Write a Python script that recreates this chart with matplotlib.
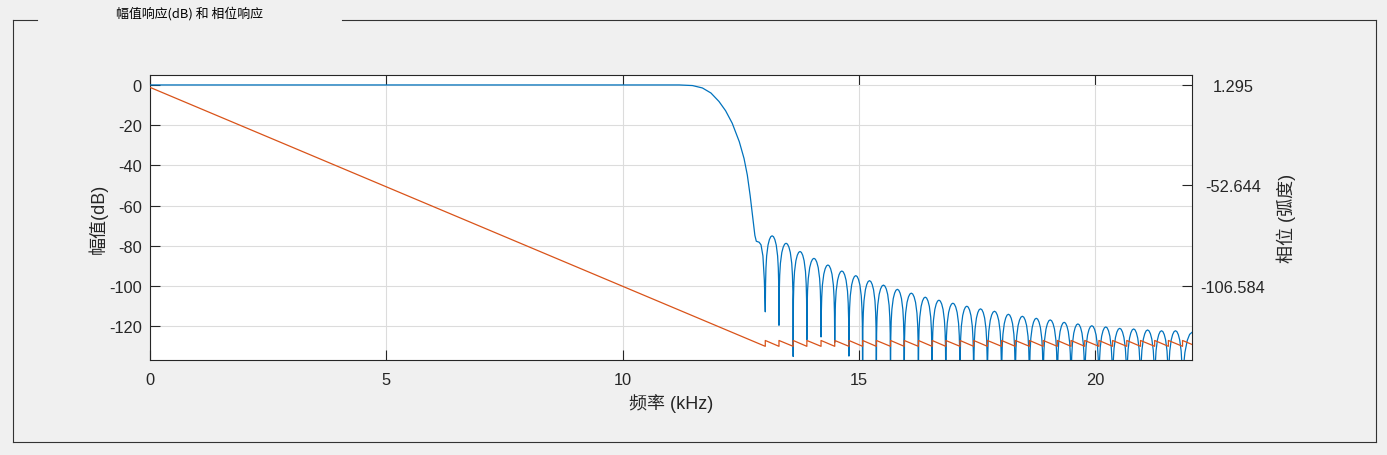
import matplotlib
matplotlib.use('Agg')
import matplotlib.pyplot as plt
from matplotlib.lines import Line2D
import numpy as np

plt.rcParams['font.family'] = ['Liberation Sans', 'Noto Sans CJK SC']
plt.rcParams['axes.unicode_minus'] = False

# magnitude: passband + transition band (kHz, dB)
trans_f = [0.0, 11.20, 11.48, 11.69, 11.87, 12.04, 12.18, 12.32, 12.47, 12.57, 12.64,
           12.70, 12.75, 12.80, 12.83, 12.89, 12.93, 12.97, 13.00]
trans_db = [0.0, 0.0, -0.3, -1.5, -4.0, -8.2, -12.8, -19.0, -28.2, -36.5, -44.8,
            -55.0, -65.0, -74.8, -77.7, -78.2, -79.5, -85.0, -97.0]

# stopband nulls (kHz) and their depth (dB), lobe peak levels (dB)
null_f = [13.02, 13.31, 13.61, 13.90, 14.20, 14.49, 14.79, 15.08, 15.37, 15.67, 15.96,
          16.26, 16.55, 16.84, 17.14, 17.43, 17.72, 18.02, 18.31, 18.61, 18.90, 19.20,
          19.49, 19.78, 20.08, 20.37, 20.67, 20.96, 21.26, 21.55, 21.85]
null_db = [-112.8, -119.5, -135.0, -126.7, -125.3, -128.0, -134.8, -150, -150, -150, -150,
           -150, -150, -150, -150, -150, -150, -150, -150, -150, -150, -150,
           -150, -150, -150, -150, -150, -150, -150, -150, -150]
peak_db = [-75.0, -78.7, -82.8, -86.2, -89.5, -92.5, -94.8, -97.3, -99.5, -101.6,
           -103.5, -105.5, -107.0, -108.5, -110.0, -111.3, -112.5, -114.0, -115.0, -116.0,
           -116.8, -118.0, -118.8, -119.7, -120.3, -121.0, -121.3, -121.8, -122.2, -122.2]
# shape of one sidelobe (fraction of lobe width, dB below its peak)
lobe_t = [0.02, 0.05, 0.1, 0.2, 0.3, 0.4, 0.5, 0.6, 0.7, 0.8, 0.9, 0.95, 0.98]
lobe_off = [-24, -16, -10, -4.6, -1.9, -0.45, 0, -0.45, -1.9, -4.6, -10, -16, -24]
# partial lobe at the right edge
tail_f = [21.87, 21.90, 21.95, 22.00, 22.05]
tail_db = [-140.0, -133.0, -127.0, -124.0, -123.0]

# phase (rad): start, values right before / after each pi jump at the nulls, end
phase_start = 0.0
phase_pre = [-139.0, -139.0, -139.0, -139.0, -139.0, -139.0, -139.0, -139.0, -139.0, -139.0,
             -139.0, -139.0, -139.0, -139.0, -139.0, -139.0, -139.0, -139.0, -139.0, -139.0,
             -139.0, -139.0, -139.0, -139.0, -139.0, -139.0, -139.0, -139.0, -139.0, -139.0,
             -139.0]
phase_post = [v + 3.14 for v in phase_pre]
phase_end = (22.05, -138.0)

phase_ticks = [1.295, -52.644, -106.584]

# build the magnitude line
mf = list(trans_f)
md = list(trans_db)
for i in range(len(null_f)):
    mf.append(null_f[i]); md.append(null_db[i])
    if i < len(peak_db):
        w = null_f[i + 1] - null_f[i]
        for t, o in zip(lobe_t, lobe_off):
            mf.append(null_f[i] + t * w); md.append(peak_db[i] + o)
mf += tail_f
md += tail_db

pf = [0.0]
pp = [phase_start]
for f, a, b in zip(null_f, phase_pre, phase_post):
    pf += [f, f]
    pp += [a, b]
pf.append(phase_end[0]); pp.append(phase_end[1])

W, H = 1387, 456
fig = plt.figure(figsize=(W / 100, H / 100), dpi=100, facecolor='#f0f0f0')
ax = fig.add_axes([150 / W, 1 - 360.7 / H, (1192 - 150) / W, (360.7 - 76.3) / H])
ax.set_facecolor('white')

ax.plot(mf, md, color='#0072BD', lw=0.9, zorder=3)
ax.set_xlim(0, 22.05)
ax.set_ylim(-136.6, 4.8)
ax.set_xticks([0, 5, 10, 15, 20])
ax.set_yticks([-120, -100, -80, -60, -40, -20, 0])
ax.grid(True, color='#dcdcdc', lw=0.8)
ax.set_axisbelow(True)
ax.tick_params(direction='in', length=7, width=0.8, colors='#262626', labelsize=11.8,
               top=True, right=True, labelright=False)
ax.tick_params(axis='y', pad=6)
ax.tick_params(axis='x', pad=9)
for s in ax.spines.values():
    s.set_color('#262626')
    s.set_linewidth(0.8)
ax.set_xlabel('频率 (kHz)', fontsize=13, color='#262626', labelpad=4)
ax.set_ylabel('幅值(dB)', fontsize=13, color='#262626', labelpad=1)

ax2 = ax.twinx()
ax2.plot(pf, pp, color='#D95319', lw=0.9, zorder=2)
ax2.set_ylim(-146.18, 6.47)
ax2.set_yticks(phase_ticks)
ax2.set_yticklabels(['%.3f' % v for v in phase_ticks])
ax2.tick_params(direction='in', length=7, width=0.8, colors='#262626', labelsize=11.8, pad=29.5)
for lbl in ax2.get_yticklabels():
    lbl.set_horizontalalignment('center')
for s in ax2.spines.values():
    s.set_visible(False)
ax2.set_ylabel('相位 (弧度)', fontsize=13, color='#262626', labelpad=8)

# panel border with title
def px(x, y):
    return x / W, 1 - y / H

lc = '#333333'
for (x0, y0), (x1, y1) in [((13, 21), (37, 21)), ((342, 21), (1376, 21)),
                           ((13, 21), (13, 443)), ((13, 443), (1376, 443)),
                           ((1376, 21), (1376, 443))]:
    a, b = px(x0, y0)
    c, d = px(x1, y1)
    fig.add_artist(Line2D([a, c], [b, d], color=lc, lw=0.8, transform=fig.transFigure))
tx, ty = px(189, 14)
fig.text(tx, ty, '幅值响应(dB) 和 相位响应', fontsize=9.3, ha='center', va='center',
         color='black', family=['Noto Sans CJK SC', 'DejaVu Sans'])

fig.savefig('out.png', dpi=100, facecolor=fig.get_facecolor())
